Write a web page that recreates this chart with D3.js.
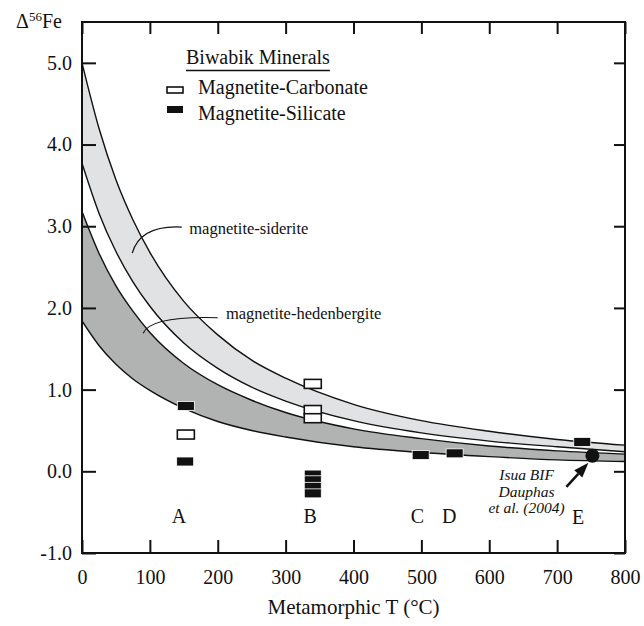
<!DOCTYPE html>
<html>
<head>
<meta charset="utf-8">
<script src="https://cdn.jsdelivr.net/npm/d3@7"></script>
<style>
  body { margin: 0; background: #fff; }
  svg { display: block; font-family: "Liberation Serif", "Times New Roman", serif; }
</style>
</head>
<body>
<svg width="644" height="626"></svg>
<script>
// temperature grid (°C) and the four fractionation curves
const temps     = [0, 25, 50, 75, 100, 150, 200, 250, 300, 400, 500, 600, 700, 800]
const sidUpper  = [5.00, 4.20, 3.57, 3.08, 2.68, 2.08, 1.67, 1.36, 1.14, 0.82, 0.62, 0.49, 0.39, 0.32]
const sidLower  = [3.77, 3.16, 2.69, 2.32, 2.02, 1.57, 1.26, 1.03, 0.86, 0.62, 0.47, 0.37, 0.30, 0.24]
const hedUpper  = [3.18, 2.67, 2.27, 1.96, 1.70, 1.32, 1.06, 0.87, 0.72, 0.52, 0.40, 0.31, 0.25, 0.21]
const hedLower  = [1.84, 1.54, 1.31, 1.13, 0.99, 0.77, 0.61, 0.50, 0.42, 0.30, 0.23, 0.18, 0.14, 0.12]

// Biwabik mineral pairs
const carbonateT = [153, 340, 340, 340]
const carbonateV = [0.45, 1.07, 0.75, 0.65]
const silicateT  = [153, 152, 340, 340, 340, 340, 499, 549, 737]
const silicateV  = [0.80, 0.12, -0.04, -0.11, -0.19, -0.27, 0.20, 0.22, 0.36]

// Isua BIF (Dauphas et al. 2004)
const isuaT = 752
const isuaV = 0.19

// metamorphic zone letters
const zoneNames = ['A', 'B', 'C', 'D', 'E']
const zoneT     = [143, 336, 494, 541, 731]
const zoneV     = [-0.63, -0.63, -0.63, -0.63, -0.65]

const xTicks = [0, 100, 200, 300, 400, 500, 600, 700, 800]
const yTicks = [-1, 0, 1, 2, 3, 4, 5]

let svg = d3.select('svg')
let pLeft = 82, pRight = 625, pTop = 22, pBottom = 553

let x = d3.scaleLinear().domain([0, 800]).range([pLeft, pRight])
let y = d3.scaleLinear().domain([-1, 5.5]).range([pBottom, pTop])

svg.append('clipPath').attr('id', 'plot')
  .append('rect').attr('x', pLeft).attr('y', pTop).attr('width', pRight - pLeft).attr('height', pBottom - pTop)

let g = svg.append('g').attr('clip-path', 'url(#plot)')

function band(upper, lower) {
  return d3.area()
    .x(function(d, i) { return x(temps[i]) })
    .y0(function(d, i) { return y(lower[i]) })
    .y1(function(d, i) { return y(upper[i]) })
    .curve(d3.curveMonotoneX)(temps)
}
function line(vals) {
  return d3.line()
    .x(function(d, i) { return x(temps[i]) })
    .y(function(d, i) { return y(vals[i]) })
    .curve(d3.curveMonotoneX)(temps)
}

g.append('path').attr('d', band(sidUpper, sidLower)).attr('fill', '#e1e2e4')
g.append('path').attr('d', band(hedUpper, hedLower)).attr('fill', '#b1b3b3')
;[sidUpper, sidLower, hedUpper, hedLower].forEach(function(vals) {
  g.append('path').attr('d', line(vals)).attr('fill', 'none').attr('stroke', '#111').attr('stroke-width', 1.4)
})

// axes, ticks inward
let fmt = function(d) { return d.toFixed(1) }
svg.append('g').attr('transform', 'translate(' + pLeft + ',0)')
  .call(d3.axisLeft(y).tickValues(yTicks).tickFormat(fmt).tickSizeInner(-14).tickSizeOuter(0).tickPadding(10))
svg.append('g').attr('transform', 'translate(' + pRight + ',0)')
  .call(d3.axisRight(y).tickValues(yTicks).tickFormat('').tickSizeInner(-11).tickSizeOuter(0))
svg.append('g').attr('transform', 'translate(0,' + pBottom + ')')
  .call(d3.axisBottom(x).tickValues(xTicks).tickFormat(d3.format('d')).tickSizeInner(-13).tickSizeOuter(0).tickPadding(17))
svg.append('g').attr('transform', 'translate(0,' + pTop + ')')
  .call(d3.axisTop(x).tickValues(xTicks).tickFormat('').tickSizeInner(-12).tickSizeOuter(0))

svg.selectAll('.domain').remove()
svg.selectAll('.tick line').attr('stroke', '#111').attr('stroke-width', 2)
svg.selectAll('.tick text').attr('font-size', 20).attr('font-family', '"Liberation Serif", serif').attr('fill', '#111')

svg.append('rect').attr('x', pLeft).attr('y', pTop).attr('width', pRight - pLeft).attr('height', pBottom - pTop)
  .attr('fill', 'none').attr('stroke', '#111').attr('stroke-width', 2)

// axis titles
svg.append('text').attr('x', (pLeft + pRight) / 2).attr('y', 614).attr('text-anchor', 'middle')
  .attr('font-size', 21).attr('fill', '#111').text('Metamorphic T (°C)')
let yl = svg.append('text').attr('x', 16).attr('y', 28).attr('font-size', 20).attr('fill', '#111')
yl.append('tspan').text('Δ')
yl.append('tspan').attr('font-size', 13).attr('dy', -7).text('56')
yl.append('tspan').attr('dy', 7).text('Fe')

// data boxes
let bw = 17, bh = 9
svg.selectAll('.carb').data(carbonateT).enter().append('rect').attr('class', 'carb')
  .attr('x', function(d) { return x(d) - bw / 2 })
  .attr('y', function(d, i) { return y(carbonateV[i]) - bh / 2 })
  .attr('width', bw).attr('height', bh)
  .attr('fill', '#fff').attr('stroke', '#111').attr('stroke-width', 1.6)
svg.selectAll('.sil').data(silicateT).enter().append('rect').attr('class', 'sil')
  .attr('x', function(d) { return x(d) - bw / 2 })
  .attr('y', function(d, i) { return y(silicateV[i]) - bh / 2 })
  .attr('width', bw).attr('height', bh)
  .attr('fill', '#111').attr('stroke', '#fff').attr('stroke-width', 0.8)

svg.append('circle').attr('cx', x(isuaT)).attr('cy', y(isuaV)).attr('r', 7).attr('fill', '#111')

// arrow to Isua point
let tip = [x(isuaT) - 4, y(isuaV) + 7]
let tail = [x(isuaT) - 26, y(isuaV) + 31]
let ang = Math.atan2(tip[1] - tail[1], tip[0] - tail[0])
let hl = 15, hw = 5.5
let base = [tip[0] - hl * Math.cos(ang), tip[1] - hl * Math.sin(ang)]
svg.append('line').attr('x1', tail[0]).attr('y1', tail[1]).attr('x2', base[0]).attr('y2', base[1])
  .attr('stroke', '#111').attr('stroke-width', 2.5)
svg.append('path').attr('fill', '#111').attr('d', 'M' + tip + 'L' +
  [base[0] + hw * Math.sin(ang), base[1] - hw * Math.cos(ang)] + 'L' +
  [base[0] - hw * Math.sin(ang), base[1] + hw * Math.cos(ang)] + 'Z')

let isua = svg.append('g').attr('font-size', 15.5).attr('font-style', 'italic').attr('text-anchor', 'middle').attr('fill', '#111')
;['Isua BIF', 'Dauphas', 'et al. (2004)'].forEach(function(t, i) {
  isua.append('text').attr('x', x(655)).attr('y', 480 + i * 16.5).text(t)
})

// zone letters
svg.selectAll('.zone').data(zoneNames).enter().append('text').attr('class', 'zone')
  .attr('x', function(d, i) { return x(zoneT[i]) })
  .attr('y', function(d, i) { return y(zoneV[i]) })
  .attr('text-anchor', 'middle').attr('font-size', 20).attr('fill', '#111')
  .text(function(d) { return d })

// legend
let lg = svg.append('g').attr('fill', '#111')
let title = lg.append('text').attr('x', 186).attr('y', 64).attr('font-size', 20).text('Biwabik Minerals')
let tw = title.node().getComputedTextLength()
lg.append('line').attr('x1', 186).attr('x2', 186 + tw).attr('y1', 70.5).attr('y2', 70.5).attr('stroke', '#111').attr('stroke-width', 1.6)
lg.append('rect').attr('x', 167).attr('y', 87).attr('width', 16).attr('height', 6).attr('fill', '#fff').attr('stroke', '#111').attr('stroke-width', 1.6)
lg.append('text').attr('x', 198).attr('y', 94).attr('font-size', 20).text('Magnetite-Carbonate')
lg.append('rect').attr('x', 167).attr('y', 106).attr('width', 16).attr('height', 7).attr('fill', '#111')
lg.append('text').attr('x', 198).attr('y', 120).attr('font-size', 20).text('Magnetite-Silicate')

// curve labels with leaders
function leader(t0, v0, t1, v1) {
  let p = d3.path()
  p.moveTo(x(t0), y(v0))
  p.quadraticCurveTo(x(t0) + 8, y(v1) - 2, x(t1), y(v1))
  return p.toString()
}
svg.append('path').attr('d', leader(74, 2.67, 147, 2.99)).attr('fill', 'none').attr('stroke', '#111').attr('stroke-width', 1.2)
svg.append('text').attr('x', x(158)).attr('y', y(2.91)).attr('font-size', 16.5).attr('fill', '#111').text('magnetite-siderite')
svg.append('path').attr('d', leader(90, 1.69, 200, 1.88)).attr('fill', 'none').attr('stroke', '#111').attr('stroke-width', 1.2)
svg.append('text').attr('x', x(212)).attr('y', y(1.87)).attr('font-size', 16.5).attr('fill', '#111').text('magnetite-hedenbergite')
</script>
</body>
</html>
